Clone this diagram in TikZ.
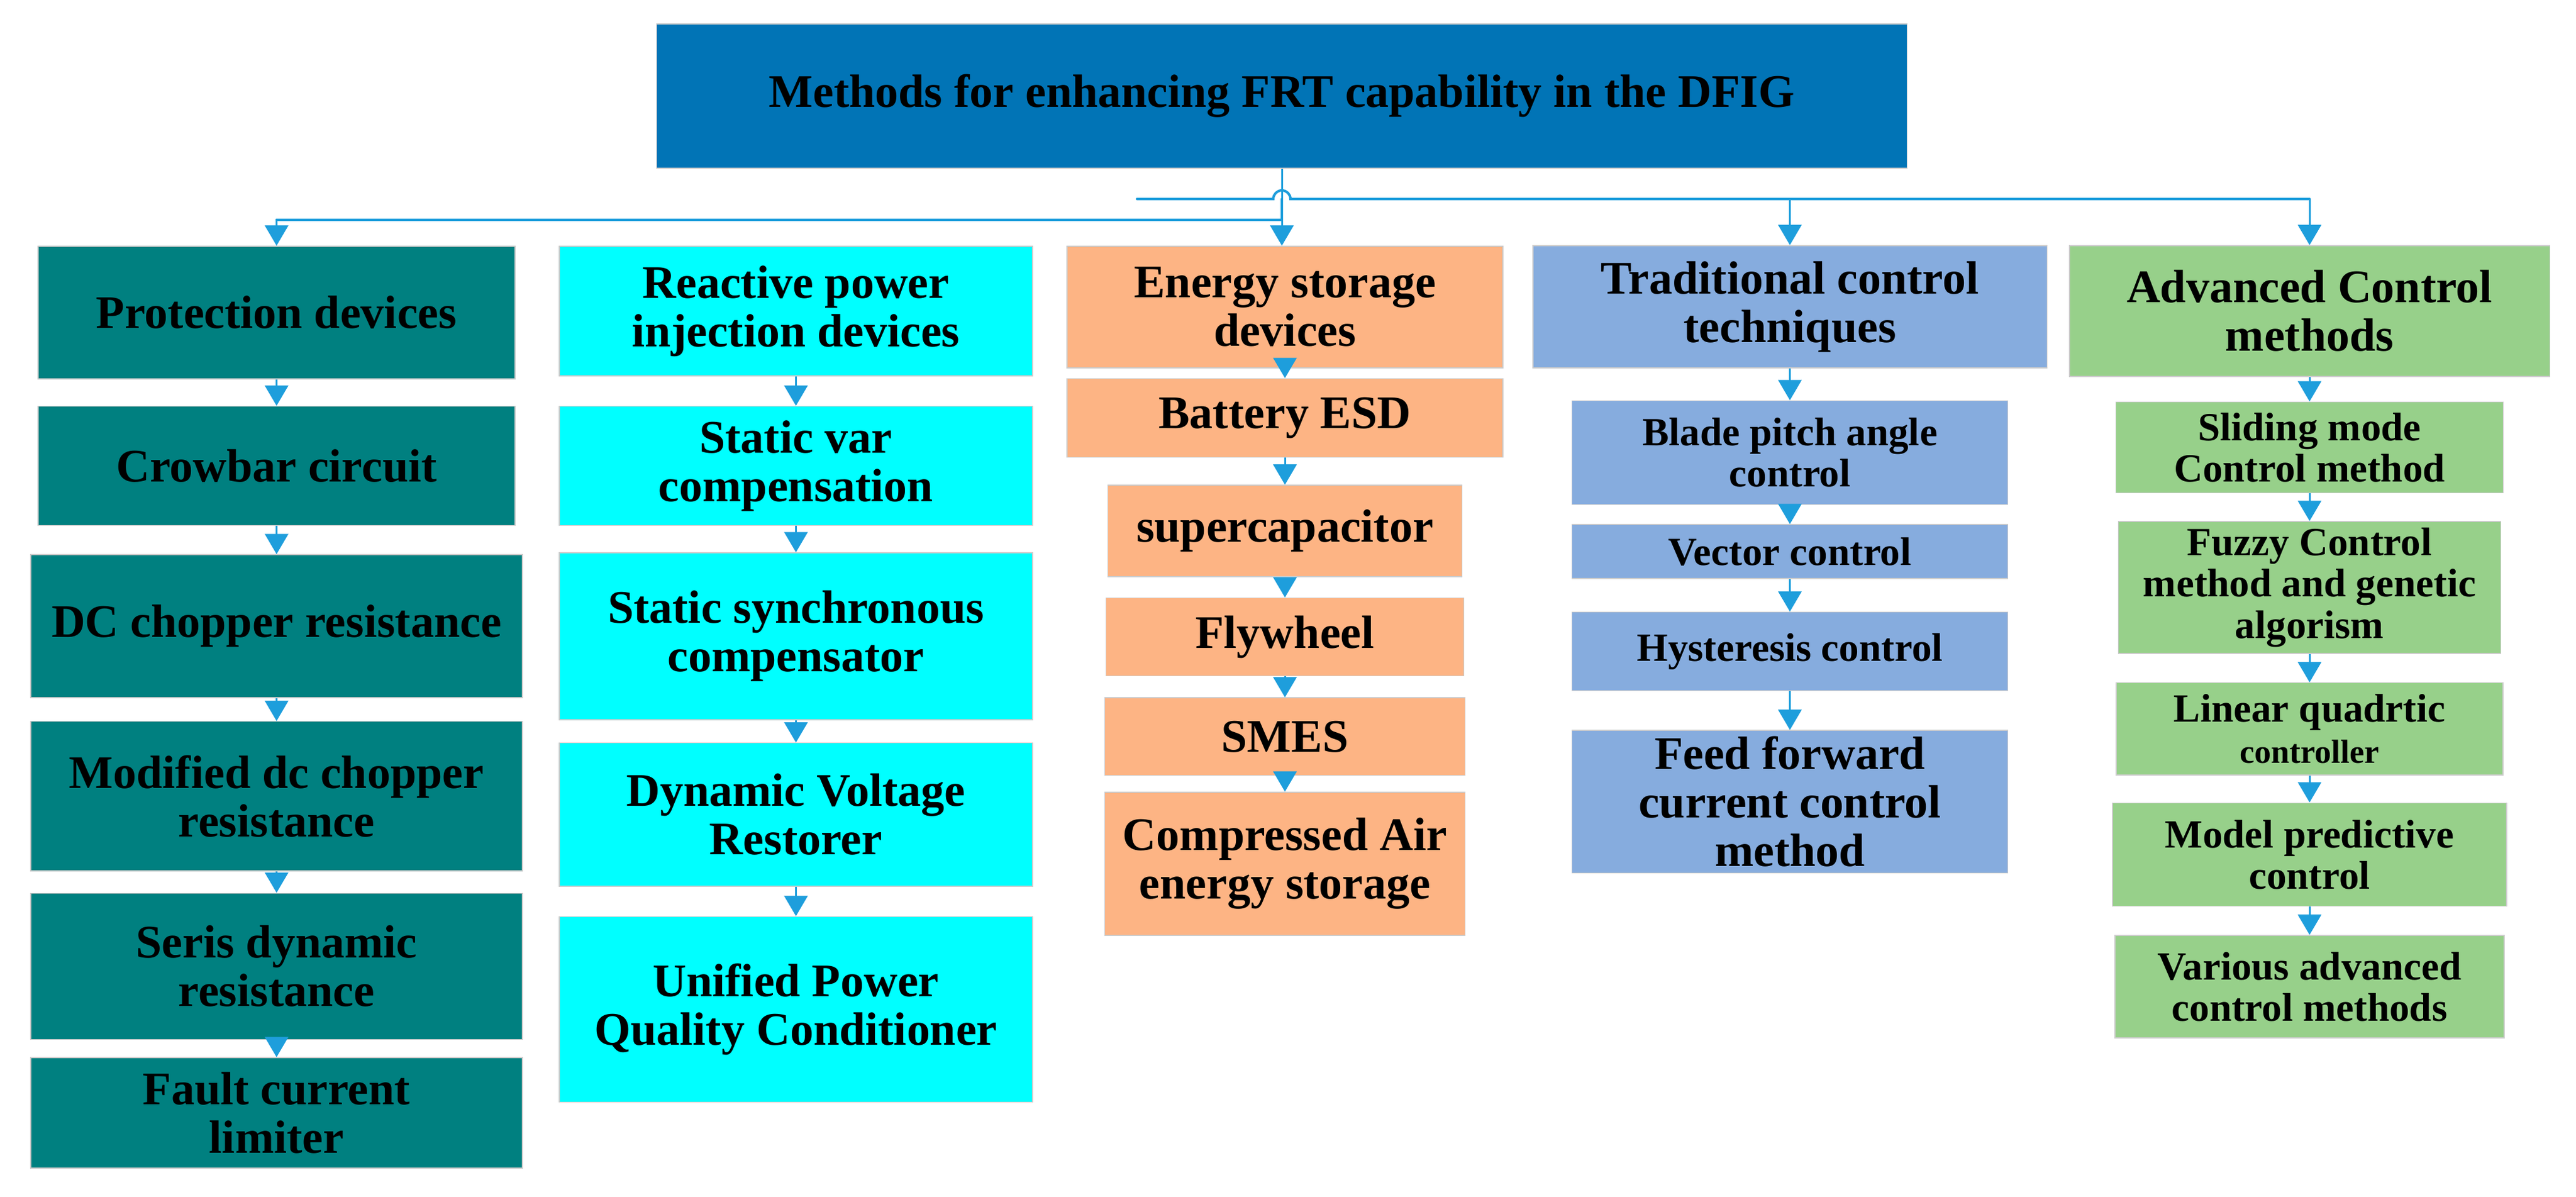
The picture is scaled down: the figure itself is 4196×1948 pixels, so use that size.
\documentclass[tikz,border=0pt]{standalone}
\usepackage{fontspec}
\setmainfont{Liberation Serif}
\usetikzlibrary{positioning, arrows.meta}
\definecolor{titleblue}{RGB}{1,116,182}
\definecolor{protteal}{RGB}{0,128,128}
\definecolor{reactcyan}{RGB}{0,255,255}
\definecolor{energyorange}{RGB}{253,180,132}
\definecolor{tradblue}{RGB}{134,172,222}
\definecolor{advgreen}{RGB}{151,208,138}
\definecolor{linkblue}{RGB}{30,158,220}

\begin{document}
\begin{tikzpicture}[x=0.01cm, y=-0.01cm]
  \tikzstyle{box}=[draw=black!20, line width=0.015cm, inner sep=0pt, align=center, font=\bfseries\fontsize{21.6pt}{22.5pt}\selectfont]
  \tikzstyle{smallfont}=[font=\bfseries\fontsize{18.5pt}{19.1pt}\selectfont]
  \tikzstyle{protbox}=[box, fill=protteal]
  \tikzstyle{reactbox}=[box, fill=reactcyan]
  \tikzstyle{energybox}=[box, fill=energyorange]
  \tikzstyle{tradbox}=[box, fill=tradblue]
  \tikzstyle{advbox}=[box, fill=advgreen]
  \tikzstyle{link}=[draw=linkblue, line width=0.03cm, -{Triangle[width=0.38cm, length=0.33cm]}]
  \tikzstyle{bus}=[draw=linkblue, line width=0.04cm, line cap=round]

  \fill[white] (0,0) rectangle (4196,1948);

  \node[box, fill=titleblue, minimum width=20.36cm, minimum height=2.35cm] (title) at (2088,156.5) {Methods for enhancing FRT capability in the DFIG};

  \node[protbox, minimum width=7.77cm, minimum height=2.16cm, anchor=north] (pd) at (450.5,400) {Protection devices};
  \node[protbox, minimum width=7.77cm, minimum height=1.94cm, below=0.43cm of pd] (cc) {Crowbar circuit};
  \node[protbox, minimum width=8.01cm, minimum height=2.33cm, below=0.46cm of cc] (dcr) {DC chopper resistance};
  \node[protbox, minimum width=8.01cm, minimum height=2.43cm, below=0.37cm of dcr] (mdcr) {Modified dc chopper\\resistance};
  \node[protbox, minimum width=8.01cm, minimum height=2.38cm, below=0.35cm of mdcr] (sdr) {Seris dynamic\\resistance};
  \node[protbox, minimum width=8.01cm, minimum height=1.80cm, below=0.28cm of sdr] (fcl) {Fault current\\limiter};

  \node[reactbox, minimum width=7.71cm, minimum height=2.11cm, anchor=north] (rpi) at (1296.5,400) {Reactive power\\injection devices};
  \node[reactbox, minimum width=7.71cm, minimum height=1.94cm, below=0.48cm of rpi] (svc) {Static var\\compensation};
  \node[reactbox, minimum width=7.71cm, minimum height=2.72cm, below=0.43cm of svc] (ssc) {Static synchronous\\compensator};
  \node[reactbox, minimum width=7.71cm, minimum height=2.33cm, below=0.36cm of ssc] (dvr) {Dynamic Voltage\\Restorer};
  \node[reactbox, minimum width=7.71cm, minimum height=3.02cm, below=0.48cm of dvr] (upqc) {Unified Power\\Quality Conditioner};

  \node[energybox, minimum width=7.10cm, minimum height=1.98cm, anchor=north] (esd) at (2093,400) {Energy storage\\devices};
  \node[energybox, minimum width=7.10cm, minimum height=1.28cm, below=0.16cm of esd] (bat) {Battery ESD};
  \node[energybox, minimum width=5.77cm, minimum height=1.49cm, below=0.44cm of bat] (scap) {supercapacitor};
  \node[energybox, minimum width=5.83cm, minimum height=1.27cm, below=0.33cm of scap] (fly) {Flywheel};
  \node[energybox, minimum width=5.87cm, minimum height=1.26cm, below=0.34cm of fly] (smes) {SMES};
  \node[energybox, minimum width=5.87cm, minimum height=2.33cm, below=0.26cm of smes] (caes) {Compressed Air\\energy storage};

  \node[tradbox, minimum width=8.37cm, minimum height=1.99cm, anchor=north] (tct) at (2915.5,399) {Traditional control\\techniques};
  \node[tradbox, smallfont, minimum width=7.10cm, minimum height=1.69cm, below=0.52cm of tct] (bpa) {Blade pitch angle\\control};
  \node[tradbox, smallfont, minimum width=7.10cm, minimum height=0.88cm, below=0.31cm of bpa] (vec) {Vector control};
  \node[tradbox, smallfont, minimum width=7.10cm, minimum height=1.28cm, below=0.53cm of vec] (hyst) {Hysteresis control};
  \node[tradbox, minimum width=7.10cm, minimum height=2.32cm, below=0.63cm of hyst] (ffc) {Feed forward\\current control\\method};

  \node[advbox, minimum width=7.82cm, minimum height=2.13cm, anchor=north] (acm) at (3762,399) {Advanced Control\\methods};
  \node[advbox, smallfont, minimum width=6.31cm, minimum height=1.48cm, below=0.40cm of acm] (smc) {Sliding mode\\Control method};
  \node[advbox, smallfont, minimum width=6.23cm, minimum height=2.15cm, below=0.45cm of smc] (fuzzy) {Fuzzy Control\\method and genetic\\algorism};
  \node[advbox, smallfont, minimum width=6.30cm, minimum height=1.50cm, below=0.46cm of fuzzy] (lqc) {Linear quadrtic\\\fontsize{15.4pt}{17.4pt}\selectfont controller};
  \node[advbox, smallfont, minimum width=6.42cm, minimum height=1.68cm, below=0.44cm of lqc] (mpc) {Model predictive\\control};
  \node[advbox, smallfont, minimum width=6.34cm, minimum height=1.67cm, below=0.46cm of mpc] (vacm) {Various advanced\\control methods};

  \coordinate (hub) at (2088,358);
  \coordinate (hop) at (2088,324);
  \coordinate (ubl) at (1852,324);
  \coordinate (ubr) at (3762,324);

  \draw[bus] (ubl) -- ([xshift=-0.14cm]hop) arc[start angle=180, end angle=0, radius=0.14cm] -- (ubr);
  \draw[bus] (hop) -- (hub) -- (hub -| pd.north);
  \draw[link] (title.south) -- (title.south |- esd.north);
  \draw[link] (hub -| pd.north) -- (pd.north);
  \draw[link] (hop -| tct.north) -- (tct.north);
  \draw[link] (ubr) -- (acm.north);

  \draw[link] (pd) -- (cc);
  \draw[link] (cc) -- (dcr);
  \draw[link] (dcr) -- (mdcr);
  \draw[link] (mdcr) -- (sdr);
  \draw[link] (sdr) -- (fcl);
  \draw[link] (rpi) -- (svc);
  \draw[link] (svc) -- (ssc);
  \draw[link] (ssc) -- (dvr);
  \draw[link] (dvr) -- (upqc);
  \draw[link] (esd) -- (bat);
  \draw[link] (bat) -- (scap);
  \draw[link] (scap) -- (fly);
  \draw[link] (fly) -- (smes);
  \draw[link] (smes) -- (caes);
  \draw[link] (tct) -- (bpa);
  \draw[link] (bpa) -- (vec);
  \draw[link] (vec) -- (hyst);
  \draw[link] (hyst) -- (ffc);
  \draw[link] (acm) -- (smc);
  \draw[link] (smc) -- (fuzzy);
  \draw[link] (fuzzy) -- (lqc);
  \draw[link] (lqc) -- (mpc);
  \draw[link] (mpc) -- (vacm);
\end{tikzpicture}
\end{document}
